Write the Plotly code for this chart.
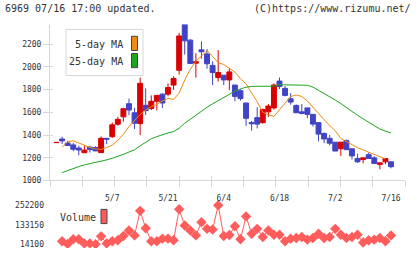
import plotly.graph_objects as go
import numpy as np

dates = ["4/19","4/20","4/21","4/22","4/23","4/26","4/27","4/28","4/30","5/6",
         "5/7","5/10","5/11","5/12","5/13","5/14","5/17","5/18","5/19","5/20",
         "5/21","5/24","5/25","5/26","5/27","5/28","5/31","6/1","6/2","6/3",
         "6/4","6/7","6/8","6/9","6/10","6/11","6/14","6/15","6/16","6/17",
         "6/18","6/21","6/22","6/23","6/24","6/25","6/28","6/29","6/30","7/1",
         "7/2","7/5","7/6","7/7","7/8","7/9","7/12","7/13","7/14","7/15","7/16"]

open_ = [1333,1365,1330,1313,1285,1244,1293,1290,1245,1371,
         1385,1495,1560,1676,1596,1501,1662,1633,1697,1760,
         1760,1840,1970,2373,2235,2033,2150,2114,2013,1906,
         1927,1885,1840,1790,1682,1509,1553,1509,1604,1639,
         1875,1811,1719,1660,1604,1639,1582,1509,1414,1371,
         1337,1279,1351,1279,1194,1184,1227,1199,1141,1164,1164]
high = [1336,1385,1350,1330,1305,1308,1305,1300,1388,1374,
        1510,1561,1640,1720,1639,1906,1811,1749,1750,1768,
        1855,1918,2300,2373,2245,2120,2224,2157,2048,2148,
        1927,1984,1840,1803,1682,1524,1645,1633,1673,1855,
        1906,1831,1768,1670,1673,1639,1582,1509,1423,1400,
        1337,1340,1360,1279,1236,1200,1245,1213,1158,1195,1164]
low = [1333,1320,1302,1258,1222,1244,1246,1259,1244,1320,
       1375,1481,1518,1575,1453,1400,1576,1620,1616,1639,
       1740,1797,1932,2108,2027,1906,2071,1984,1840,1870,
       1840,1797,1697,1703,1481,1438,1458,1500,1559,1624,
       1805,1740,1668,1596,1582,1548,1475,1345,1328,1308,
       1259,1216,1271,1184,1155,1150,1193,1144,1098,1144,1107]
close = [1335,1348,1308,1275,1268,1267,1272,1260,1371,1364,
         1490,1538,1632,1620,1504,1855,1616,1697,1749,1682,
         1818,1898,2272,2229,2030,2045,2133,2027,1950,1950,
         1885,1956,1740,1721,1547,1500,1496,1624,1655,1840,
         1827,1749,1690,1596,1590,1582,1496,1408,1365,1328,
         1259,1337,1271,1216,1164,1199,1193,1150,1155,1193,1121]

# 5-day MA as drawn (from 4/20 to 7/15)
ma5 = [1293,1340,1350,1330,1310,1290,1278,1272,1290,1310,
       1355,1405,1475,1525,1580,1620,1650,1670,1700,1722,
       1714,1769,1884,1980,2049,2095,2142,2093,2037,2021,
       1989,1954,1896,1850,1770,1693,1601,1578,1564,1623,
       1688,1739,1752,1740,1700,1641,1591,1534,1488,1436,
       1371,1339,1315,1288,1268,1248,1225,1208,1190]
# 25-day MA as drawn (from 4/20 to 7/16)
ma25 = [1069,1089,1105,1122,1137,1147,1156,1165,1181,1195,
        1211,1230,1250,1270,1305,1340,1367,1386,1405,1418,
        1430,1459,1504,1540,1576,1610,1644,1675,1702,1729,
        1760,1786,1806,1821,1828,1829,1829,1829,1830,1843,
        1843,1843,1843,1840,1838,1822,1795,1768,1738,1708,
        1677,1641,1605,1573,1543,1513,1483,1453,1435,1418]
# Volume (from 4/20 to 7/16)
volume = [32000,15500,44000,44000,18300,18300,14100,62000,18300,32000,
          38000,64000,98000,68000,218000,112000,32000,32000,48000,48000,
          38000,228000,128000,98000,68000,148000,108000,104000,252200,64000,
          70000,124000,44000,184000,78000,108000,58000,98000,72000,72000,
          32000,48000,52000,58000,42000,52000,78000,52000,58000,108000,
          72000,52000,58000,72000,24000,38000,42000,52000,32000,68000]

price_ticks = [1000,1200,1400,1600,1800,2000,2200]
vol_ticks = [14100,133150,252200]
date_labels = ["5/7","5/21","6/4","6/18","7/2","7/16"]

W, H = 420, 259
RED = "#d80000"
BLUE = "#4044c4"
ORANGE = "#f08a10"
GREEN = "#1ea51e"
VOLC = "#ff5c5c"
AX = "#d6d6d6"
TXT = "#333333"
FONT = "DejaVu Sans Mono"

xi = list(range(len(dates)))
ma5_x = xi[1:1 + len(ma5)]
ma25_x = xi[1:1 + len(ma25)]
vol_x = xi[1:1 + len(volume)]

XR = [-1.166, 62.51]
YR = [1000, 2373]
grid_ticks = list(np.linspace(XR[0], XR[1], 12))
label_idx = [dates.index(d) for d in date_labels]

def px(x):
    return x / W

def py(y):
    return 1 - y / H

fig = go.Figure()
fig.add_trace(go.Scatter(x=ma5_x, y=ma5, mode="lines", line=dict(color=ORANGE, width=1),
                         xaxis="x", yaxis="y", showlegend=False, hoverinfo="skip"))
fig.add_trace(go.Scatter(x=ma25_x, y=ma25, mode="lines", line=dict(color=GREEN, width=1),
                         xaxis="x", yaxis="y", showlegend=False, hoverinfo="skip"))
fig.add_trace(go.Candlestick(x=xi, open=open_, high=high, low=low, close=close,
                             increasing=dict(line=dict(color=RED, width=1), fillcolor=RED),
                             decreasing=dict(line=dict(color=BLUE, width=1), fillcolor=BLUE),
                             whiskerwidth=0, xaxis="x", yaxis="y", showlegend=False,
                             hoverinfo="skip"))
fig.add_trace(go.Scatter(x=vol_x, y=volume, mode="lines+markers",
                         line=dict(color=VOLC, width=1),
                         marker=dict(symbol="diamond", size=8, color=VOLC),
                         xaxis="x2", yaxis="y2", showlegend=False, hoverinfo="skip"))
# empty traces so the overlay axes (inner ticks, date labels) get drawn
fig.add_trace(go.Scatter(x=[None], y=[None], mode="markers", xaxis="x3", yaxis="y3",
                         showlegend=False, hoverinfo="skip"))
fig.add_trace(go.Scatter(x=[None], y=[None], mode="markers", xaxis="x4", yaxis="y",
                         showlegend=False, hoverinfo="skip"))

dom_x = [px(50), px(405)]
common_x = dict(domain=dom_x, range=XR, showgrid=False, zeroline=False, fixedrange=True)

fig.update_layout(
    width=W, height=H,
    margin=dict(l=0, r=0, t=0, b=0),
    paper_bgcolor="white", plot_bgcolor="white",
    boxgap=0.12, boxgroupgap=0.0,
    font=dict(family=FONT, size=8, color=TXT),
    xaxis=dict(**common_x, anchor="y", showline=True, linecolor=AX, linewidth=1,
               tickmode="array", tickvals=grid_ticks, ticks="outside", ticklen=6,
               tickcolor=AX, showticklabels=False, rangeslider=dict(visible=False)),
    xaxis3=dict(**common_x, anchor="y", overlaying="x", showline=False,
                tickmode="array", tickvals=grid_ticks, ticks="inside", ticklen=4,
                tickcolor=AX, showticklabels=False),
    xaxis4=dict(**common_x, anchor="y", overlaying="x", showline=False,
                tickmode="array", tickvals=label_idx, ticktext=date_labels, ticks="",
                ticklabelstandoff=12, tickfont=dict(size=8, color=TXT, family=FONT)),
    yaxis=dict(domain=[py(184), py(25)], range=YR, anchor="x",
               showline=True, linecolor=AX, linewidth=1, showgrid=False, zeroline=False,
               tickmode="array", tickvals=price_ticks, ticks="outside", ticklen=6,
               tickcolor=AX, tickfont=dict(size=8, color=TXT, family=FONT), fixedrange=True),
    yaxis3=dict(range=YR, anchor="x", overlaying="y", side="left",
                showline=False, showgrid=False, zeroline=False,
                tickmode="array", tickvals=price_ticks, ticks="inside", ticklen=3,
                tickcolor=AX, showticklabels=False),
    xaxis2=dict(**common_x, anchor="y2", visible=False),
    yaxis2=dict(domain=[py(253), py(205)], range=[-9888, 277987], anchor="x2",
                showline=False, showgrid=False, zeroline=False,
                tickmode="array", tickvals=vol_ticks, ticktext=[str(v) for v in vol_ticks],
                ticks="", ticklabelstandoff=5,
                tickfont=dict(size=8, color=TXT, family=FONT), fixedrange=True),
)

shapes = [
    dict(type="rect", xref="paper", yref="paper", x0=px(66), x1=px(143), y0=py(77), y1=py(30),
         line=dict(color=AX, width=1), fillcolor="white", layer="above"),
    dict(type="rect", xref="paper", yref="paper", x0=px(131.5), x1=px(137.5), y0=py(51.5), y1=py(37),
         line=dict(color="#444", width=1), fillcolor=ORANGE, layer="above"),
    dict(type="rect", xref="paper", yref="paper", x0=px(131.5), x1=px(137.5), y0=py(69), y1=py(54.5),
         line=dict(color="#444", width=1), fillcolor=GREEN, layer="above"),
    dict(type="rect", xref="paper", yref="paper", x0=px(101), x1=px(107), y0=py(228), y1=py(213.5),
         line=dict(color="#444", width=1), fillcolor=VOLC, layer="above"),
]
annots = [
    dict(text="6969 07/16 17:00 updated.", x=px(3), y=py(9), xanchor="left", yanchor="middle"),
    dict(text="(C)https://www.rizumu.net/", x=px(413), y=py(9), xanchor="right", yanchor="middle"),
    dict(text="5-day MA", x=px(125), y=py(45), xanchor="right", yanchor="middle"),
    dict(text="25-day MA", x=px(125), y=py(62.5), xanchor="right", yanchor="middle"),
    dict(text="Volume", x=px(58), y=py(222), xanchor="left", yanchor="middle"),
]
for a in annots:
    a.update(xref="paper", yref="paper", showarrow=False,
             font=dict(family=FONT, size=10, color=TXT))
fig.update_layout(shapes=shapes, annotations=annots)

fig.write_html("out.html")
